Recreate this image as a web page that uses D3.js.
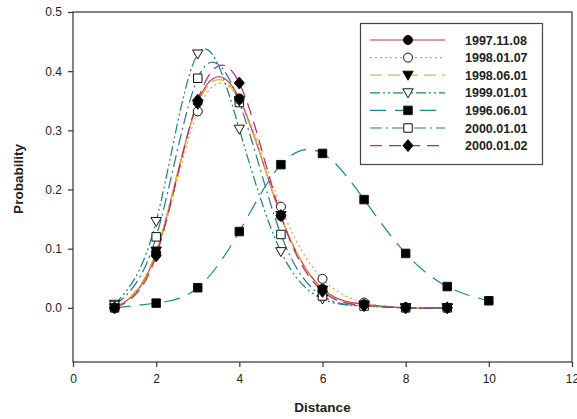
<!DOCTYPE html>
<html>
<head>
<meta charset="utf-8">
<script src="https://cdn.jsdelivr.net/npm/d3@7"></script>
<style>
  html, body { margin: 0; padding: 0; background: #fff; }
  svg { display: block; font-family: "Liberation Sans", Arial, sans-serif; }
</style>
</head>
<body>
<svg id="chart" width="577" height="419"></svg>
<script>
// Distance classes for the six 1997-2000 surveys
const distances = [1, 2, 3, 4, 5, 6, 7, 8, 9];
// Distance classes for the 1996 survey
const distances1996 = [1, 2, 3, 4, 5, 6, 7, 8, 9, 10];

const p19971108 = [0.000, 0.093, 0.347, 0.354, 0.155, 0.032, 0.006, 0.000, 0.000];
const p19980107 = [0.000, 0.090, 0.332, 0.352, 0.171, 0.049, 0.009, 0.001, 0.000];
const p19980601 = [0.000, 0.096, 0.344, 0.350, 0.156, 0.030, 0.005, 0.000, 0.000];
const p19990101 = [0.006, 0.146, 0.429, 0.302, 0.095, 0.015, 0.003, 0.000, 0.000];
const p19960601 = [0.000, 0.008, 0.034, 0.129, 0.242, 0.261, 0.183, 0.092, 0.036, 0.012];
const p20000101 = [0.004, 0.120, 0.388, 0.347, 0.124, 0.020, 0.003, 0.000, 0.000];
const p20000102 = [0.000, 0.088, 0.351, 0.380, 0.156, 0.028, 0.004, 0.000, 0.000];

const xTicks = [0, 2, 4, 6, 8, 10, 12];
const yTicks = [0.0, 0.1, 0.2, 0.3, 0.4, 0.5];

const series = [
  { name: "1997.11.08", xs: distances, ys: p19971108, color: "#c8323e", dash: null, symbol: "circle", fill: "#000" },
  { name: "1998.01.07", xs: distances, ys: p19980107, color: "#f59a3c", dash: "2,3", symbol: "circle", fill: "#fff" },
  { name: "1998.06.01", xs: distances, ys: p19980601, color: "#d6bd2a", dash: "12,6", symbol: "down", fill: "#000" },
  { name: "1999.01.01", xs: distances, ys: p19990101, color: "#138a62", dash: "10,3,2,3,2,3", symbol: "down", fill: "#fff" },
  { name: "1996.06.01", xs: distances1996, ys: p19960601, color: "#14889c", dash: "16,9", symbol: "square", fill: "#000" },
  { name: "2000.01.01", xs: distances, ys: p20000101, color: "#2a72a0", dash: "12,4,2,4", symbol: "square", fill: "#fff" },
  { name: "2000.01.02", xs: distances, ys: p20000102, color: "#b02a7c", dash: "12,7", symbol: "diamond", fill: "#000" }
];

const svg = d3.select("#chart");
const mLeft = 73, mRight = 572, mTop = 12, mBottom = 362;

const x = d3.scaleLinear().domain([0, 12]).range([mLeft, mRight]);
const y = d3.scaleLinear().domain([-0.0915, 0.5]).range([mBottom, mTop]);

// frame
svg.append("rect")
  .attr("x", mLeft).attr("y", mTop)
  .attr("width", mRight - mLeft).attr("height", mBottom - mTop)
  .attr("fill", "none").attr("stroke", "#333").attr("stroke-width", 1.2);

// axes
const xAxis = svg.append("g")
  .attr("transform", `translate(0,${mBottom})`)
  .call(d3.axisBottom(x).tickValues(xTicks).tickSize(5).tickPadding(7).tickFormat(d3.format("d")));
const yAxis = svg.append("g")
  .attr("transform", `translate(${mLeft},0)`)
  .call(d3.axisLeft(y).tickValues(yTicks).tickSize(5).tickPadding(6).tickFormat(d3.format(".1f")));
[xAxis, yAxis].forEach(g => {
  g.select(".domain").remove();
  g.selectAll("line").attr("stroke", "#333").attr("stroke-width", 1.2);
  g.selectAll("text").attr("fill", "#222").style("font-size", "12px")
    .style("font-family", "Liberation Sans, Arial, sans-serif");
});

// axis titles
svg.append("text")
  .attr("x", (mLeft + mRight) / 2).attr("y", 412)
  .attr("text-anchor", "middle")
  .style("font-size", "13.5px").style("font-weight", "bold").attr("fill", "#222")
  .text("Distance");
svg.append("text")
  .attr("transform", `translate(23,${(mTop + mBottom) / 2 - 8}) rotate(-90)`)
  .attr("text-anchor", "middle")
  .style("font-size", "13.5px").style("font-weight", "bold").attr("fill", "#222")
  .text("Probability");

const line = d3.line()
  .x(d => x(d[0])).y(d => y(d[1]))
  .curve(d3.curveNatural);

function symbolPath(kind) {
  if (kind === "circle") return d3.symbol(d3.symbolCircle, 64)();
  if (kind === "square") return d3.symbol(d3.symbolSquare, 72)();
  if (kind === "diamond") return "M0,-6L5,0L0,6L-5,0Z";
  if (kind === "down") return "M-5.2,-4L5.2,-4L0,5Z";
}

const plot = svg.append("g");

// curves
series.forEach(s => {
  const pts = s.xs.map((d, i) => [d, s.ys[i]]);
  plot.append("path")
    .datum(pts)
    .attr("d", line)
    .attr("fill", "none")
    .attr("stroke", s.color)
    .attr("stroke-width", 1.2)
    .attr("stroke-dasharray", s.dash);
});

// markers, back to front
const markerOrder = [4, 3, 5, 1, 2, 0, 6];
markerOrder.forEach(k => {
  const s = series[k];
  plot.selectAll(null)
    .data(s.xs.map((d, i) => [d, s.ys[i]]))
    .enter().append("path")
    .attr("transform", d => `translate(${x(d[0])},${y(d[1])})`)
    .attr("d", symbolPath(s.symbol))
    .attr("fill", s.fill)
    .attr("stroke", "#111")
    .attr("stroke-width", 1);
});

// legend
const lg = svg.append("g");
lg.append("rect")
  .attr("x", 360.5).attr("y", 23.5).attr("width", 182).attr("height", 141)
  .attr("fill", "#fff").attr("stroke", "#444").attr("stroke-width", 1.2);
series.forEach((s, i) => {
  const cy = 40 + i * 17.6;
  lg.append("line")
    .attr("x1", 370).attr("x2", 445).attr("y1", cy).attr("y2", cy)
    .attr("stroke", s.color).attr("stroke-width", 1.2)
    .attr("stroke-dasharray", s.dash);
  lg.append("path")
    .attr("transform", `translate(408,${cy})`)
    .attr("d", symbolPath(s.symbol))
    .attr("fill", s.fill).attr("stroke", "#111").attr("stroke-width", 1);
  lg.append("text")
    .attr("x", 465).attr("y", cy + 4.5)
    .style("font-size", "12.5px").style("font-weight", "bold").attr("fill", "#222")
    .text(s.name);
});
</script>
</body>
</html>
